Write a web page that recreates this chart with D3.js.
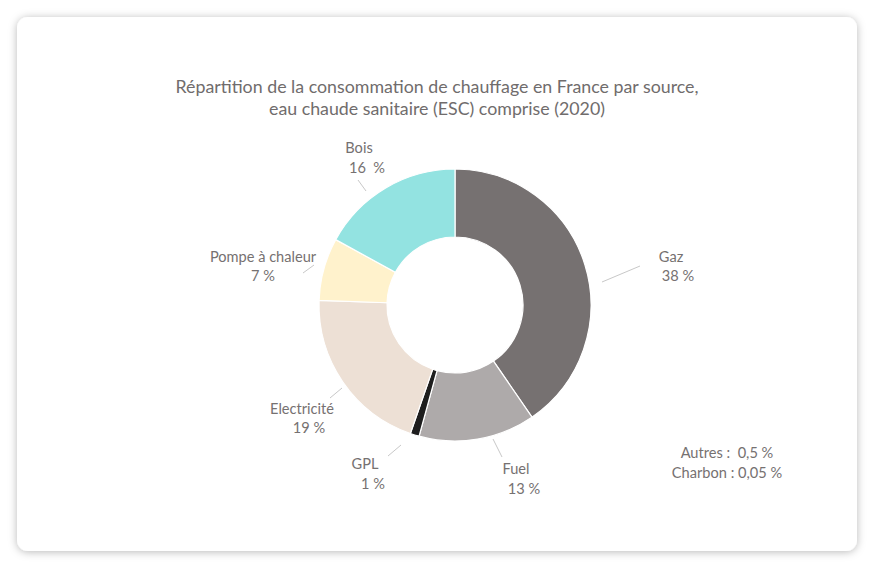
<!DOCTYPE html>
<html>
<head>
<meta charset="utf-8">
<script src="https://cdn.jsdelivr.net/npm/d3@7"></script>
<style>
  html, body { margin: 0; padding: 0; background: #fff; }
  svg text { font-family: Lato, "Open Sans", sans-serif; white-space: pre; }
</style>
</head>
<body>
<div class="chart"></div>
<script>

// data (labels are the % shown, pie normalises them)
const sources = ["Gaz", "Fuel", "GPL", "Electricité", "Pompe à chaleur", "Bois"]
const values  = [38, 13, 1, 19, 7, 16]
const valueLabels = ["38 %", "13 %", "1 %", "19 %", "7 %", "16  %"]
const colors  = ["#767171", "#aeaaaa", "#1e1e1e", "#ede0d5", "#fff2cc", "#93e3e1"]
const titleLines = ["Répartition de la consommation de chauffage en France par source,",
                    "eau chaude sanitaire (ESC) comprise (2020)"]
const noteLines = ["Autres :  0,5 %", "Charbon : 0,05 %"]

// label placement relative to the donut centre: name line, value line, leader segment
const labelLayout = [
  {x1: 216, y1: -48, x2: 223, y2: -29, lead: [[147, -23], [185, -39]]},
  {x1: 61,  y1: 164, x2: 69,  y2: 184, lead: [[38, 134], [47, 152]]},
  {x1: -90, y1: 159, x2: -82, y2: 179, lead: [[-54, 140], [-67, 151]]},
  {x1: -153,y1: 104, x2: -146,y2: 123, lead: [[-113, 83], [-125, 93]]},
  {x1: -192,y1: -48, x2: -192,y2: -29, lead: [[-141, -40], [-152, -32]]},
  {x1: -96, y1: -157,x2: -88, y2: -137,lead: [[-89, -114], [-97, -125]]}
]

function draw() {
	const W = 874, H = 568
	const svg = d3.select(".chart").append("svg")
		.attr("width", W)
		.attr("height", H)

	const f = svg.append("defs").append("filter").attr("id", "shadow")
		.attr("x", "-10%").attr("y", "-10%").attr("width", "120%").attr("height", "120%")
	f.append("feDropShadow")
		.attr("dx", 0).attr("dy", 1)
		.attr("stdDeviation", 4.5)
		.attr("flood-color", "#000")
		.attr("flood-opacity", 0.28)

	// card
	svg.append("rect")
		.attr("x", 17).attr("y", 17)
		.attr("width", 840).attr("height", 534)
		.attr("rx", 11)
		.attr("fill", "#fff")
		.attr("filter", "url(#shadow)")

	// title
	svg.append("g").selectAll("text")
		.data(titleLines)
		.enter()
		.append("text")
		.attr("x", 437)
		.attr("y", (d, i) => 93 + i * 22)
		.attr("text-anchor", "middle")
		.attr("font-size", 17.8)
		.attr("fill", "#706c6c")
		.text(d => d)

	const cx = 455, cy = 305
	const outerR = 136, innerR = 68

	const pie = d3.pie().sort(null).value(d => d)
	const arcs = pie(values)
	const arc = d3.arc().innerRadius(innerR).outerRadius(outerR)

	const g = svg.append("g").attr("transform", "translate(" + cx + "," + cy + ")")

	g.selectAll("path")
		.data(arcs)
		.enter()
		.append("path")
		.attr("d", arc)
		.attr("fill", (d, i) => colors[i])
		.attr("stroke", "#fff")
		.attr("stroke-width", 1.2)

	// leader lines
	g.selectAll("line.leader")
		.data(labelLayout)
		.enter()
		.append("line")
		.attr("class", "leader")
		.attr("x1", d => d.lead[0][0]).attr("y1", d => d.lead[0][1])
		.attr("x2", d => d.lead[1][0]).attr("y2", d => d.lead[1][1])
		.attr("stroke", "#c8c8c8")
		.attr("stroke-width", 1)

	// labels
	const lab = g.selectAll("g.lab")
		.data(arcs)
		.enter()
		.append("g")
		.attr("class", "lab")
	lab.append("text")
		.attr("x", (d, i) => labelLayout[i].x1)
		.attr("y", (d, i) => labelLayout[i].y1 + 5)
		.attr("text-anchor", "middle")
		.attr("font-size", 14.6)
		.attr("fill", "#767171")
		.text((d, i) => sources[i])
	lab.append("text")
		.attr("x", (d, i) => labelLayout[i].x2)
		.attr("y", (d, i) => labelLayout[i].y2 + 5)
		.attr("text-anchor", "middle")
		.attr("font-size", 14.6)
		.attr("fill", "#767171")
		.text((d, i) => valueLabels[i])

	// note
	svg.append("g").selectAll("text")
		.data(noteLines)
		.enter()
		.append("text")
		.attr("x", 727)
		.attr("y", (d, i) => 458 + i * 20)
		.attr("text-anchor", "middle")
		.attr("font-size", 14.6)
		.attr("fill", "#767171")
		.text(d => d)
}

draw()
</script>
</body>
</html>
